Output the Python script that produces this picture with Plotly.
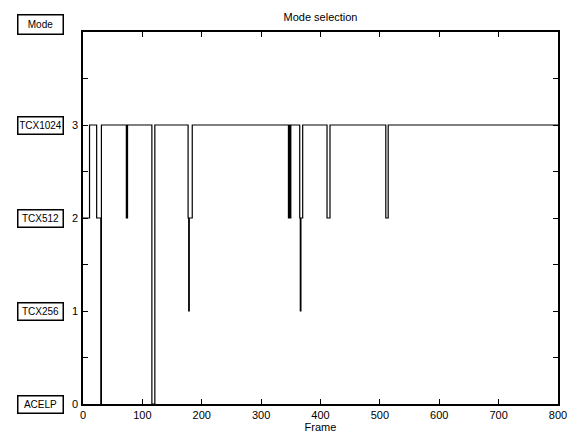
import plotly.graph_objects as go

# Change points of the selected mode (frame where a new mode starts) and the mode value
change_frames = [0, 11, 23, 30, 31, 73, 75, 116, 121, 177, 178, 179, 184,
                 346, 347, 349, 350, 365, 366, 367, 370, 411, 416, 510, 514, 800]
change_modes = [2, 3, 2, 0, 3, 2, 3, 0, 3, 2, 1, 2, 3,
                2, 3, 2, 3, 2, 1, 2, 3, 2, 3, 2, 3, 3]

x_ticks = [0, 100, 200, 300, 400, 500, 600, 700, 800]
y_tick_vals = [0, 0.5, 1, 1.5, 2, 2.5, 3, 3.5, 4]
y_tick_text = ["0", "", "1", "", "2", "", "3", "", ""]

mode_names = ["ACELP", "TCX256", "TCX512", "TCX1024"]
mode_levels = [0, 1, 2, 3]
header_name = "Mode"

title_text = "Mode selection"
x_title = "Frame"

font_main = "Liberation Sans, Arial, Helvetica, sans-serif"
font_box = "Liberation Sans Narrow, Liberation Sans, Arial, sans-serif"

fig = go.Figure()
fig.add_trace(go.Scatter(
    x=change_frames, y=change_modes, mode="lines",
    line=dict(color="black", width=1.2, shape="hv"),
    showlegend=False, hoverinfo="skip",
))

axis_common = dict(
    showgrid=False, zeroline=False, showline=True, linecolor="black",
    linewidth=1.5, mirror="ticks", ticks="inside", tickcolor="black",
    ticklen=5, tickwidth=1, automargin=False,
    tickfont=dict(family=font_main, size=11, color="black"),
)

fig.update_xaxes(range=[0, 800], tickvals=x_ticks,
                 ticktext=[str(v) for v in x_ticks],
                 title=dict(text=x_title, standoff=3,
                            font=dict(family=font_main, size=11, color="black")),
                 **axis_common)
fig.update_yaxes(range=[0, 4], tickvals=y_tick_vals, ticktext=y_tick_text,
                 ticklabelstandoff=1, **axis_common)

box_style = dict(
    xref="paper", x=-0.04, xanchor="right", yanchor="middle", showarrow=False,
    width=42, align="center", bordercolor="black", borderwidth=1.5, borderpad=1,
    bgcolor="white", font=dict(family=font_box, size=10, color="black"),
)
for name, lvl in zip(mode_names, mode_levels):
    fig.add_annotation(yref="y", y=lvl, text=name, height=14, **box_style)
fig.add_annotation(yref="paper", y=380 / 372, text=header_name,
                   height=16, **box_style)

# page has an 8px body margin, so the figure is made 8px smaller
fig.update_layout(
    width=568, height=433,
    margin=dict(l=75, r=18, t=24, b=37, autoexpand=False),
    paper_bgcolor="white", plot_bgcolor="white",
    title=dict(text=title_text, x=0.5, xanchor="center", xref="paper",
               y=1 - 9 / 433, yanchor="middle",
               font=dict(family=font_main, size=11, color="black")),
)

fig.write_html("out.html")
